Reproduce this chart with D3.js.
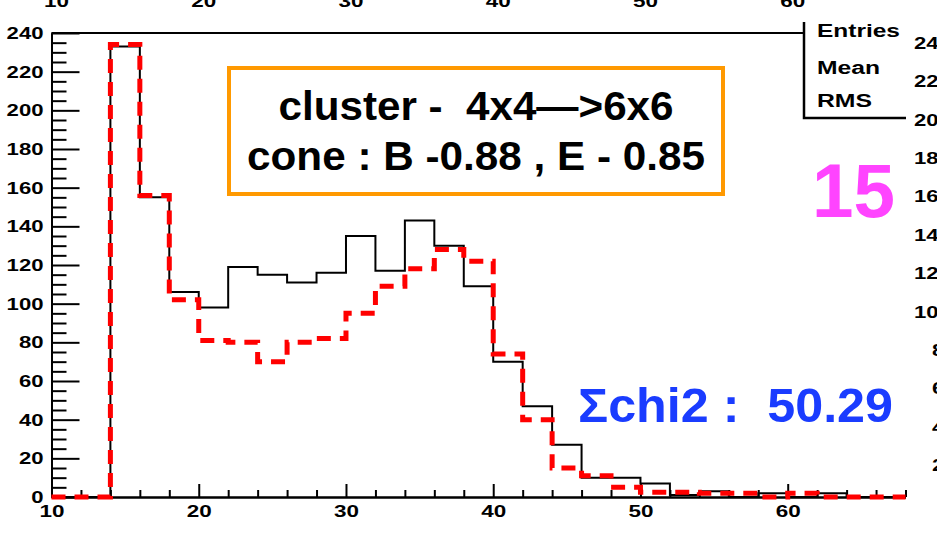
<!DOCTYPE html>
<html>
<head>
<meta charset="utf-8">
<script src="https://cdn.jsdelivr.net/npm/d3@7"></script>
<style>
  html, body { margin: 0; padding: 0; background: #fff; }
  svg { display: block; font-family: "Liberation Sans", Arial, Helvetica, sans-serif; }
</style>
</head>
<body>
<svg id="chart" width="937" height="533"></svg>
<script>
// Histogram bins (lower edges, width 2)
const binLow = [10,12,14,16,18,20,22,24,26,28,30,32,34,36,38,40,42,44,46,48,50,52,54,56,58,60,62,64,66];
const binWidth = 2;
// Solid black histogram
const countsSolid = [0,0,233,155,106,98,119,115,111,116,135,117,143,130,109,70,47,27,10,10,7,1,3,0,2,0,2,0,0];
// Dashed red histogram
const countsDashed = [0,0,234,156,102,81,80,70,80,82,95,109,118,128,122,74,40,15,11,5,2.5,2.5,2,2,0,2,0,0,0];

const yMajor = [0,20,40,60,80,100,120,140,160,180,200,220,240];
const xMajor = [10,20,30,40,50,60];
const neighbourTicks = [240,220,200,180,160,140,120,100,80,60,40,20];
const statLabels = ["Entries", "Mean", "RMS"];
const boxLines = ["cluster -  4x4\u2014>6x6", "cone : B -0.88 , E - 0.85"];
const padNumber = "15";
const chiLabel = "\u03A3chi2 :  50.29";

const svg = d3.select("#chart");

const x = d3.scaleLinear().domain([10, 68]).range([51.5, 905.5]);
const y = d3.scaleLinear().domain([0, 240]).range([497, 33]);
// y-axis of the neighbouring pad on the right
const yNext = d3.scaleLinear().domain([0, 240]).range([503.4, 43]);

// ---- frame top edge
svg.append("line")
  .attr("x1", x(10)).attr("x2", 804)
  .attr("y1", y(240)).attr("y2", y(240))
  .attr("stroke", "#000").attr("stroke-width", 2);

// ---- y axis
const yMinor = d3.range(0, 241, 5).filter(v => v % 20 !== 0);
const gyMinor = svg.append("g").attr("transform", `translate(${x(10)},0)`)
  .call(d3.axisLeft(y).tickValues(yMinor).tickSize(-15).tickSizeOuter(0).tickFormat(""));
const gy = svg.append("g").attr("transform", `translate(${x(10)},0)`)
  .call(d3.axisLeft(y).tickValues(yMajor).tickSize(-28).tickSizeOuter(0).tickPadding(8));
gy.selectAll("text")
  .attr("font-family", "Liberation Sans, Arial, sans-serif")
  .attr("font-size", 17).attr("font-weight", "bold").attr("fill", "#000")
  .attr("textLength", d => String(d).length * 12.3)
  .attr("lengthAdjust", "spacingAndGlyphs");

// ---- x axis
const xMinor = d3.range(10, 68.1, 2).filter(v => v % 10 !== 0);
const gxMinor = svg.append("g").attr("transform", `translate(0,${y(0)})`)
  .call(d3.axisBottom(x).tickValues(xMinor).tickSize(-7).tickSizeOuter(0).tickFormat(""));
const gx = svg.append("g").attr("transform", `translate(0,${y(0)})`)
  .call(d3.axisBottom(x).tickValues(xMajor).tickSize(-13).tickSizeOuter(0).tickPadding(8));
gx.selectAll("text")
  .attr("font-family", "Liberation Sans, Arial, sans-serif")
  .attr("font-size", 17).attr("font-weight", "bold").attr("fill", "#000")
  .attr("textLength", 25).attr("lengthAdjust", "spacingAndGlyphs");

svg.selectAll(".domain, .tick line").attr("stroke", "#000").attr("stroke-width", 2);

// ---- histograms
const stepLine = d3.line()
  .x(d => x(d[0])).y(d => y(d[1]))
  .curve(d3.curveStepAfter);
const toPoints = counts => {
  const pts = binLow.map((b, i) => [b, counts[i]]);
  pts.push([binLow[binLow.length - 1] + binWidth, counts[counts.length - 1]]);
  return pts;
};

svg.append("path")
  .attr("d", stepLine(toPoints(countsSolid)))
  .attr("fill", "none").attr("stroke", "#000").attr("stroke-width", 2);

svg.append("path")
  .attr("d", stepLine(toPoints(countsDashed)))
  .attr("fill", "none").attr("stroke", "#ff0000").attr("stroke-width", 5)
  .attr("stroke-dasharray", "14 9");

// ---- statistics box (partly outside the pad)
svg.append("rect").attr("x", 805).attr("y", 22).attr("width", 101).attr("height", 95).attr("fill", "#fff");
svg.append("path")
  .attr("d", "M804,22 V118 H906")
  .attr("fill", "none").attr("stroke", "#000").attr("stroke-width", 2.5);
const statY = [37, 73.5, 107];
const statW = [83, 63, 55];
svg.selectAll("text.stat").data(statLabels).join("text")
  .attr("class", "stat")
  .attr("x", 817).attr("y", (d, i) => statY[i])
  .attr("font-size", 18).attr("font-weight", "bold").attr("fill", "#000")
  .attr("textLength", (d, i) => statW[i]).attr("lengthAdjust", "spacingAndGlyphs")
  .text(d => d);

// ---- labels of the neighbouring pads (cut by the canvas edge)
svg.selectAll("text.topTick").data(xMajor).join("text")
  .attr("class", "topTick")
  .attr("x", d => x(d) + 5).attr("y", 7)
  .attr("text-anchor", "middle")
  .attr("font-size", 17).attr("font-weight", "bold").attr("fill", "#000")
  .attr("textLength", 25).attr("lengthAdjust", "spacingAndGlyphs")
  .text(d => d);

svg.selectAll("text.rightTick").data(neighbourTicks).join("text")
  .attr("class", "rightTick")
  .attr("x", d => d >= 100 ? 914 : 932)
  .attr("y", d => yNext(d)).attr("dy", "0.35em")
  .attr("font-size", 17).attr("font-weight", "bold").attr("fill", "#000")
  .attr("textLength", d => String(d).length * 12.3).attr("lengthAdjust", "spacingAndGlyphs")
  .text(d => d);

// ---- annotation box
svg.append("rect")
  .attr("x", 229).attr("y", 68).attr("width", 494).attr("height", 126)
  .attr("fill", "#fff").attr("stroke", "#ff9900").attr("stroke-width", 4);
const boxY = [120, 170];
const boxW = [395, 458];
svg.selectAll("text.box").data(boxLines).join("text")
  .attr("class", "box")
  .attr("x", 476).attr("y", (d, i) => boxY[i])
  .attr("text-anchor", "middle")
  .style("white-space", "pre")
  .attr("font-size", 40).attr("font-weight", "bold").attr("fill", "#000")
  .attr("textLength", (d, i) => boxW[i]).attr("lengthAdjust", "spacingAndGlyphs")
  .text(d => d);

// ---- pad number
svg.append("text")
  .attr("x", 812).attr("y", 217)
  .attr("font-size", 76).attr("font-weight", "bold").attr("fill", "#ff44ff")
  .attr("textLength", 83).attr("lengthAdjust", "spacingAndGlyphs")
  .text(padNumber);

// ---- chi2 label
svg.append("text")
  .attr("x", 578).attr("y", 422)
  .style("white-space", "pre")
  .attr("font-size", 49).attr("font-weight", "bold").attr("fill", "#1a3cff")
  .attr("textLength", 315).attr("lengthAdjust", "spacingAndGlyphs")
  .text(chiLabel);
</script>
</body>
</html>
